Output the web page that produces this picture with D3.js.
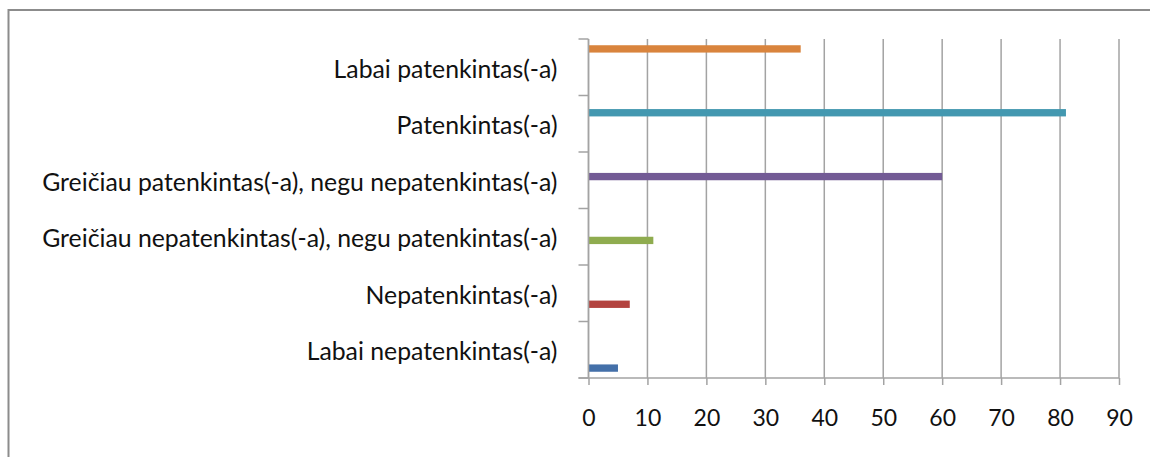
<!DOCTYPE html>
<html>
<head>
<meta charset="utf-8">
<script src="https://cdn.jsdelivr.net/npm/d3@7"></script>
<style>
  html, body { margin: 0; padding: 0; background: #fff; }
  svg { display: block; }
  text { font-family: Lato, "Open Sans", "Liberation Sans", sans-serif; fill: #111; }
</style>
</head>
<body>
<svg id="chart" width="1150" height="457"></svg>
<script>
// ---- data ----
const categories = [
  "Labai nepatenkintas(-a)",
  "Nepatenkintas(-a)",
  "Greičiau nepatenkintas(-a), negu patenkintas(-a)",
  "Greičiau patenkintas(-a), negu nepatenkintas(-a)",
  "Patenkintas(-a)",
  "Labai patenkintas(-a)"
];
const values = [5, 7, 11, 60, 81, 36];
const xTicks = [0, 10, 20, 30, 40, 50, 60, 70, 80, 90];
const colors = ["#4470a9", "#b3433f", "#8fac4f", "#735b95", "#4398b0", "#d9843d"];

// ---- layout ----
const W = 1150, H = 457;
const plot = { left: 588.5, right: 1119, top: 39, bottom: 378 };
const svg = d3.select("#chart");

svg.append("rect").attr("width", W).attr("height", H).attr("fill", "#fff");

// outer frame (only top and left edges visible)
svg.append("path")
  .attr("d", `M8.5,${H} L8.5,10 L${W},10`)
  .attr("fill", "none").attr("stroke", "#8c8c8c").attr("stroke-width", 2);

const x = d3.scaleLinear().domain([0, 90]).range([plot.left, plot.right]);
const y = d3.scaleBand()
  .domain(categories.slice().reverse())
  .range([plot.top, plot.bottom])
  .paddingInner(0).paddingOuter(0);
// series within a group: series 0 at the bottom
const seriesIdx = d3.range(categories.length);
const yInner = d3.scaleBand()
  .domain(seriesIdx.slice().reverse())
  .range([0, y.bandwidth()])
  .paddingInner(0).paddingOuter(0.85);

const gridColor = "#a3a3a3";

// vertical gridlines
svg.append("g").selectAll("line").data(xTicks).join("line")
  .attr("x1", d => x(d)).attr("x2", d => x(d))
  .attr("y1", plot.top).attr("y2", plot.bottom)
  .attr("stroke", gridColor).attr("stroke-width", 1.5);

// bars
svg.append("g").selectAll("rect").data(categories).join("rect")
  .attr("x", x(0))
  .attr("y", (c, i) => y(c) + yInner(i))
  .attr("width", (c, i) => x(values[i]) - x(0))
  .attr("height", yInner.bandwidth())
  .attr("fill", (c, i) => colors[i]);

// x axis
const xAxis = d3.axisBottom(x).tickValues(xTicks).tickSize(7).tickPadding(25).tickFormat(d3.format("d"));
const gx = svg.append("g").attr("transform", `translate(0,${plot.bottom})`).call(xAxis);
gx.select(".domain").remove();
gx.append("line").attr("x1", plot.left - 10).attr("x2", plot.right).attr("y1", 0).attr("y2", 0)
  .attr("stroke", gridColor).attr("stroke-width", 1.5);
gx.selectAll(".tick line").attr("stroke", gridColor).attr("stroke-width", 1.5);
gx.selectAll(".tick text").attr("font-size", 23).attr("font-family", "Lato, 'Open Sans', sans-serif").attr("fill", "#111");

// y axis
const gy = svg.append("g").attr("transform", `translate(${plot.left},0)`);
gy.append("line").attr("x1", 0).attr("x2", 0).attr("y1", plot.top).attr("y2", plot.bottom)
  .attr("stroke", gridColor).attr("stroke-width", 1.5);
const boundaries = categories.map(c => y(c)).concat([plot.bottom]);
gy.selectAll("line.tk").data(boundaries).join("line").attr("class", "tk")
  .attr("x1", -10).attr("x2", 0).attr("y1", d => d).attr("y2", d => d)
  .attr("stroke", gridColor).attr("stroke-width", 1.5);
gy.selectAll("text").data(categories).join("text")
  .attr("x", -31)
  .attr("y", c => y(c) + y.bandwidth() / 2)
  .attr("dy", "0.42em")
  .attr("text-anchor", "end")
  .attr("font-size", 24.8)
  .text(c => c);
</script>
</body>
</html>
